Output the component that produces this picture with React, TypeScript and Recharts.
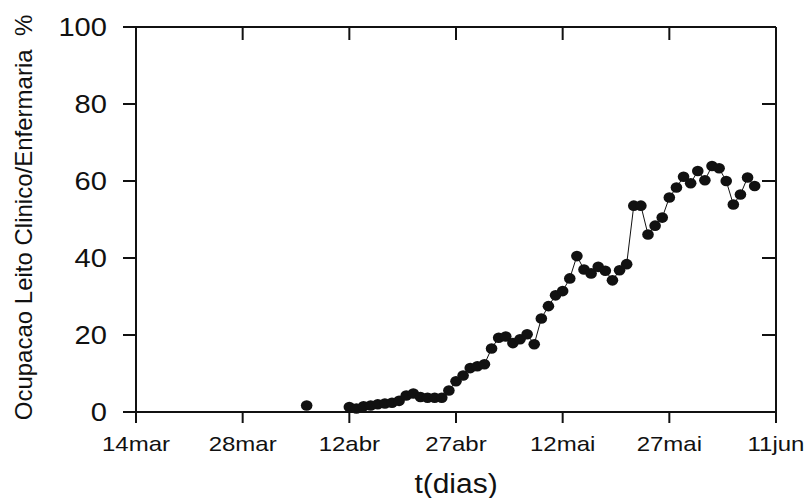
import React from 'react';
import { LineChart, Line, XAxis, YAxis } from 'recharts';

const days = [24, 30, 31, 32, 33, 34, 35, 36, 37, 38, 39, 40, 41, 42, 43, 44, 45, 46, 47, 48, 49, 50, 51, 52, 53, 54, 55, 56, 57, 58, 59, 60, 61, 62, 63, 64, 65, 66, 67, 68, 69, 70, 71, 72, 73, 74, 75, 76, 77, 78, 79, 80, 81, 82, 83, 84, 85, 86, 87];
const occupancy = [1.7, 1.3, 0.9, 1.5, 1.7, 2.0, 2.2, 2.4, 2.9, 4.3, 4.8, 3.9, 3.7, 3.7, 3.7, 5.6, 8.0, 9.5, 11.4, 11.9, 12.4, 16.5, 19.3, 19.6, 17.9, 18.9, 20.2, 17.6, 24.3, 27.5, 30.3, 31.4, 34.7, 40.5, 37.0, 36.0, 37.7, 36.7, 34.2, 36.8, 38.4, 53.6, 53.6, 46.1, 48.4, 50.5, 55.7, 58.3, 61.1, 59.4, 62.6, 60.2, 63.9, 63.3, 60.0, 53.9, 56.5, 60.9, 58.7];
const xTickValues = [0, 15, 30, 45, 60, 75, 90];
const xTickLabels = ['14mar', '28mar', '12abr', '27abr', '12mai', '27mai', '11jun'];
const yTickValues = [0, 20, 40, 60, 80, 100];

const data: { day: number; occ: number | null }[] = [];
days.forEach((d, i) => {
  if (i > 0 && d - days[i - 1] > 1) data.push({ day: days[i - 1] + 1, occ: null });
  data.push({ day: d, occ: occupancy[i] });
});

const FONT = '"Liberation Sans", Arial, Helvetica, sans-serif';
const INK = '#111';

const XTick = (props: any) => {
  const { x, y, payload } = props;
  const idx = xTickValues.indexOf(payload.value);
  return (
    <g transform={`translate(${x},${y}) scale(1.2,1)`}>
      <text x={0} y={0} dy={28.5} textAnchor="middle" fontSize={20} fontFamily={FONT} fill={INK}>
        {idx >= 0 ? xTickLabels[idx] : payload.value}
      </text>
    </g>
  );
};

const YTick = (props: any) => {
  const { x, y, payload } = props;
  return (
    <g transform={`translate(${x},${y}) scale(1.12,1)`}>
      <text x={0} y={0} dy={9.3} textAnchor="end" fontSize={26} fontFamily={FONT} fill={INK}>
        {payload.value}
      </text>
    </g>
  );
};

const NoTick = () => <g />;

const Dot = (props: any) => {
  const { cx, cy, value } = props;
  if (value == null || cx == null || cy == null) return <g key={props.key} />;
  return <ellipse key={props.key} cx={cx} cy={cy} rx={5.8} ry={5.3} fill={INK} />;
};

const YLabel = (props: any) => {
  const vb = props.viewBox || { x: 0, y: 27, width: 136, height: 385 };
  const cx = vb.x + 32;
  const cy = vb.y + vb.height / 2 - 2;
  return (
    <text
      transform={`translate(${cx},${cy}) rotate(-90)`}
      textAnchor="middle"
      fontSize={24}
      fontFamily={FONT}
      fill={INK}
      style={{ whiteSpace: 'pre' }}
    >
      {'Ocupacao Leito Clinico/Enfermaria  %'}
    </text>
  );
};

const XLabel = (props: any) => {
  const vb = props.viewBox || { x: 136, y: 412, width: 640, height: 86 };
  const cx = vb.x + vb.width / 2;
  const cy = vb.y + 81;
  return (
    <g transform={`translate(${cx},${cy}) scale(1.07,1)`}>
      <text x={0} y={0} textAnchor="middle" fontSize={28} fontFamily={FONT} fill={INK}>
        t(dias)
      </text>
    </g>
  );
};

export default function App() {
  return (
    <div style={{ position: 'absolute', left: 0, top: 0, width: 808, height: 498, background: '#fff' }}>
      <LineChart width={808} height={498} data={data} margin={{ top: 26, right: 31, bottom: 0, left: 0 }}>
        <XAxis
          dataKey="day"
          type="number"
          domain={[0, 90]}
          ticks={xTickValues}
          interval={0}
          height={86}
          tickSize={11}
          tickMargin={0}
          tick={<XTick />}
          stroke={INK}
          strokeWidth={2}
          label={<XLabel />}
        />
        <XAxis
          xAxisId="top"
          orientation="top"
          dataKey="day"
          type="number"
          domain={[0, 90]}
          ticks={xTickValues}
          interval={0}
          height={1}
          tickSize={-13}
          tick={<NoTick />}
          stroke={INK}
          strokeWidth={2}
        />
        <YAxis
          type="number"
          domain={[0, 100]}
          ticks={yTickValues}
          interval={0}
          width={136}
          tickSize={13}
          tickMargin={16}
          tick={<YTick />}
          stroke={INK}
          strokeWidth={2}
          label={<YLabel />}
        />
        <YAxis
          yAxisId="right"
          orientation="right"
          type="number"
          domain={[0, 100]}
          ticks={yTickValues}
          interval={0}
          width={1}
          tickSize={-14}
          tick={<NoTick />}
          stroke={INK}
          strokeWidth={2}
        />
        <Line
          xAxisId="top"
          yAxisId="right"
          type="linear"
          dataKey="occ"
          stroke="none"
          dot={false}
          activeDot={false}
          legendType="none"
          isAnimationActive={false}
        />
        <Line
          type="linear"
          dataKey="occ"
          stroke={INK}
          strokeWidth={1}
          connectNulls={false}
          dot={<Dot />}
          activeDot={false}
          isAnimationActive={false}
        />
      </LineChart>
    </div>
  );
}
